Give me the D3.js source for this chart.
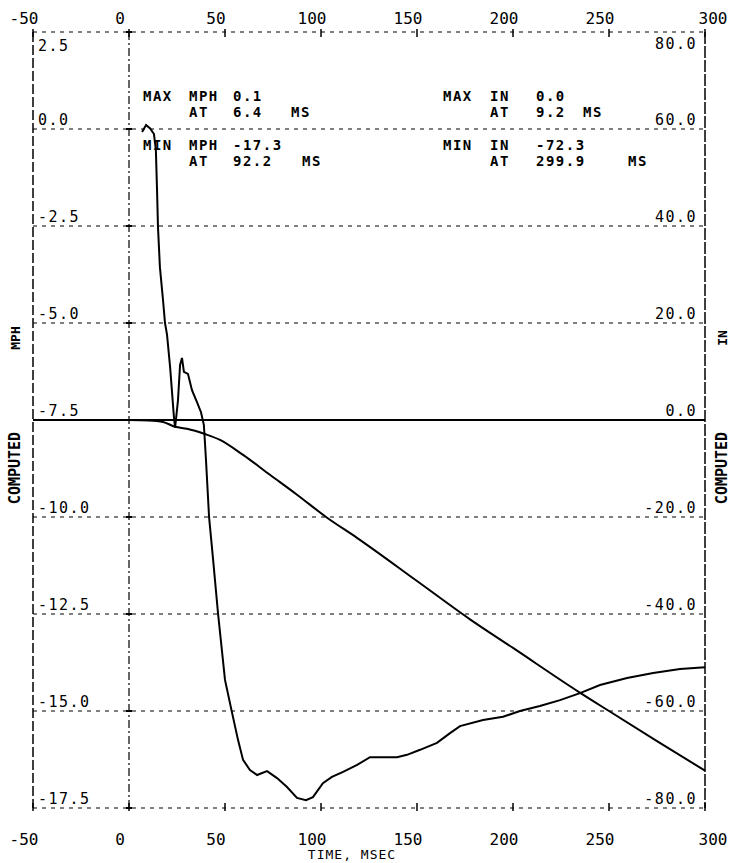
<!DOCTYPE html>
<html><head><meta charset="utf-8">
<script src="https://cdn.jsdelivr.net/npm/d3@7"></script>
<style>body{margin:0;background:#fff}svg text{font-family:"DejaVu Sans Mono",monospace;fill:#000}</style>
</head><body><svg id="c" width="737" height="863"></svg>
<script>
// ---- data ----
const timeTicks = [-50, 0, 50, 100, 150, 200, 250, 300];
const leftTicks = [2.5, 0.0, -2.5, -5.0, -7.5, -10.0, -12.5, -15.0, -17.5];
const rightTicks = [80, 60, 40, 20, 0, -20, -40, -60, -80];
// Computed MPH (left axis)
const mphTime = [6.8, 8.9, 10.9, 13, 14, 14.6, 15.1, 16.1, 17.7, 18.75, 19.8, 21.4, 23.4, 24, 25.5, 26.6, 27.6, 28.6, 30.7, 32.8, 35.4, 37.5, 39, 40.1, 41.7, 43.8, 46.4, 50, 53.6, 56.8, 59.4, 63, 66.7, 71.9, 77.1, 82.3, 87.5, 92.2, 95.8, 101, 105.7, 111.5, 118.8, 125.5, 132.3, 139.6, 144.8, 151.6, 160.4, 167.2, 172.4, 184.4, 194.8, 203.6, 214, 224.5, 234.9, 245.3, 259.4, 273, 287, 300];
const mphVal = [-0.08, 0.1, 0.02, -0.13, -0.54, -1.57, -2.53, -3.56, -4.4, -5.0, -5.3, -6.13, -7.42, -7.7, -7.0, -6.08, -5.9, -6.26, -6.31, -6.73, -7.04, -7.3, -7.63, -8.53, -10.0, -11.1, -12.5, -14.2, -15.03, -15.75, -16.26, -16.52, -16.65, -16.55, -16.73, -16.96, -17.24, -17.3, -17.22, -16.86, -16.7, -16.57, -16.39, -16.19, -16.19, -16.19, -16.13, -16.0, -15.82, -15.57, -15.39, -15.23, -15.15, -15.0, -14.87, -14.72, -14.54, -14.33, -14.15, -14.02, -13.92, -13.87];
// Computed IN (right axis)
const inTime = [0, 10, 17.7, 24, 30.2, 39.6, 47.4, 59.4, 73.4, 87.5, 103, 118.75, 150, 177.6, 200, 234.4, 250, 275, 300];
const inVal = [0, -0.1, -0.4, -1.4, -1.8, -2.9, -4.1, -7.2, -11.3, -15.4, -20.1, -24.3, -33.2, -41.1, -47.0, -56.1, -60.0, -66.2, -72.3];
const annLeft = [["MAX", "MPH", "0.1"], ["", "AT", "6.4", "MS"], ["MIN", "MPH", "-17.3"], ["", "AT", "92.2", "MS"]];
const annRight = [["MAX", "IN", "0.0"], ["", "AT", "9.2", "MS"], ["MIN", "IN", "-72.3"], ["", "AT", "299.9", "MS"]];

// ---- scales ----
const svg = d3.select("#c");
const x = d3.scaleLinear().domain([-50, 300]).range([33, 705]);
const yL = d3.scaleLinear().domain([-17.5, 2.5]).range([808, 32]);
const yR = d3.scaleLinear().domain([-80, 80]).range([808, 32]);

// grid lines
svg.append("g").selectAll("line").data(leftTicks).join("line")
  .attr("x1", x(-50)).attr("x2", x(300))
  .attr("y1", d => yL(d)).attr("y2", d => yL(d))
  .attr("stroke", "#000")
  .attr("stroke-width", d => d === -7.5 ? 2 : 1)
  .attr("stroke-dasharray", d => d === -7.5 ? null : "4,5");
// frame verticals
svg.append("line").attr("x1", x(-50)).attr("x2", x(-50)).attr("y1", yL(2.5)).attr("y2", yL(-17.5))
  .attr("stroke", "#000").attr("stroke-width", 1.5).attr("stroke-dasharray", "10,3");
svg.append("line").attr("x1", x(300)).attr("x2", x(300)).attr("y1", yL(2.5)).attr("y2", yL(-17.5))
  .attr("stroke", "#000").attr("stroke-width", 1.5).attr("stroke-dasharray", "12,2");
svg.append("line").attr("x1", x(0)).attr("x2", x(0)).attr("y1", yL(2.5)).attr("y2", yL(-17.5))
  .attr("stroke", "#000").attr("stroke-width", 1.2).attr("stroke-dasharray", "8,3,2,3");
// tick marks top/bottom
const tg = svg.append("g");
tg.selectAll(".tt").data(timeTicks).join("line")
  .attr("x1", d => x(d)).attr("x2", d => x(d)).attr("y1", yL(2.5) - 3).attr("y2", yL(2.5) + 5)
  .attr("stroke", "#000").attr("stroke-width", 1.5);
tg.selectAll(".tb").data(timeTicks).join("line")
  .attr("x1", d => x(d)).attr("x2", d => x(d)).attr("y1", yL(-17.5) - 5).attr("y2", yL(-17.5) + 3)
  .attr("stroke", "#000").attr("stroke-width", 1.5);
// crosses on x=0 line
tg.selectAll(".cr").data(leftTicks).join("line")
  .attr("x1", x(0) - 3).attr("x2", x(0) + 3).attr("y1", d => yL(d)).attr("y2", d => yL(d))
  .attr("stroke", "#000").attr("stroke-width", 2);

// time labels
svg.append("g").selectAll("text").data(timeTicks).join("text")
  .attr("x", d => x(d) - (d === 300 ? -8 : 9)).attr("y", 24).attr("text-anchor", "middle")
  .attr("font-size", 16).text(d => d);
svg.append("g").selectAll("text").data(timeTicks).join("text")
  .attr("x", d => x(d) - (d === 300 ? -8 : 9)).attr("y", 845).attr("text-anchor", "middle")
  .attr("font-size", 16).text(d => d);
svg.append("text").attr("x", 352).attr("y", 859).attr("text-anchor", "middle")
  .attr("font-size", 13).attr("letter-spacing", 1).text("TIME, MSEC");

// left labels
svg.append("g").selectAll("text").data(leftTicks).join("text")
  .attr("x", 38).attr("y", d => d === 2.5 ? yL(d) + 19 : yL(d) - 4)
  .attr("font-size", 15).attr("letter-spacing", 1.5).text(d => d.toFixed(1));
// right labels
svg.append("g").selectAll("text").data(rightTicks).join("text")
  .attr("x", 697).attr("y", d => d === 80 ? yR(d) + 17 : yR(d) - 4).attr("text-anchor", "end")
  .attr("font-size", 15).attr("letter-spacing", 1.5).text(d => d.toFixed(1));

// axis titles
svg.append("text").attr("transform", `translate(20,${468}) rotate(-90)`).attr("text-anchor", "middle")
  .attr("font-size", 15).attr("font-weight", "bold").text("COMPUTED");
svg.append("text").attr("transform", `translate(20,${338}) rotate(-90)`).attr("text-anchor", "middle")
  .attr("font-size", 13).attr("font-weight", "bold").text("MPH");
svg.append("text").attr("transform", `translate(727,${468}) rotate(-90)`).attr("text-anchor", "middle")
  .attr("font-size", 15).attr("font-weight", "bold").text("COMPUTED");
svg.append("text").attr("transform", `translate(727,${338}) rotate(-90)`).attr("text-anchor", "middle")
  .attr("font-size", 13).attr("font-weight", "bold").text("IN");

// annotations
const annY = [101, 117, 150, 166];
function ann(rows, xs) {
  rows.forEach((r, i) => {
    r.forEach((tok, j) => {
      if (!tok) return;
      const xx = Array.isArray(xs[j]) ? xs[j][i] : xs[j];
      svg.append("text").attr("x", xx).attr("y", annY[i]).attr("font-size", 14)
        .attr("font-weight", "bold").attr("letter-spacing", 1.5).text(tok);
    });
  });
}
ann(annLeft, [143, 189, 233, [0, 291, 0, 302]]);
ann(annRight, [443, 490, 536, [0, 583, 0, 628]]);

// curves
const lineL = d3.line().x(d => x(d[0])).y(d => yL(d[1])).curve(d3.curveLinear);
const lineR = d3.line().x(d => x(d[0])).y(d => yR(d[1])).curve(d3.curveMonotoneX);
svg.append("path").datum(mphTime.map((t, i) => [t, mphVal[i]])).attr("d", lineL)
  .attr("fill", "none").attr("stroke", "#000").attr("stroke-width", 2);
svg.append("path").datum(inTime.map((t, i) => [t, inVal[i]])).attr("d", lineR)
  .attr("fill", "none").attr("stroke", "#000").attr("stroke-width", 2);
</script></body></html>
